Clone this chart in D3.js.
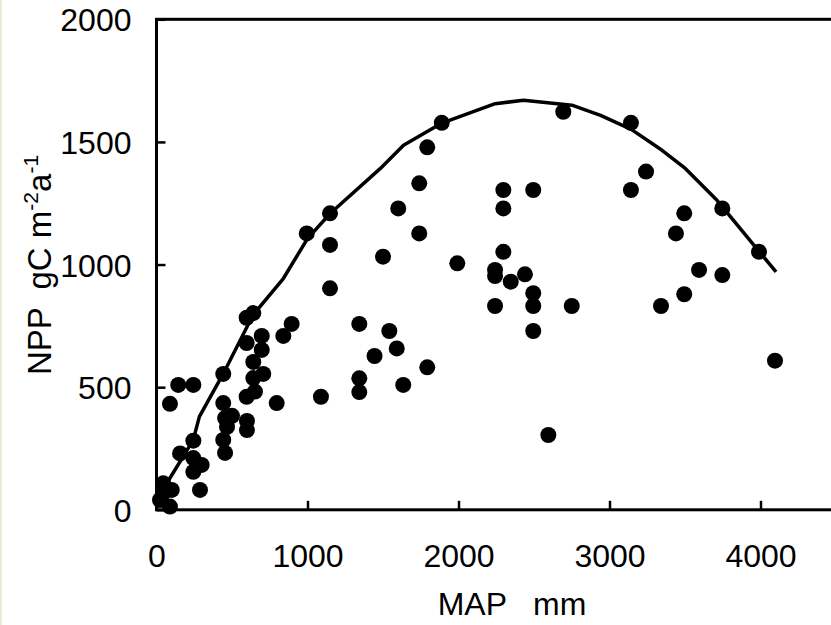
<!DOCTYPE html>
<html>
<head>
<meta charset="utf-8">
<script src="https://cdn.jsdelivr.net/npm/d3@7"></script>
<style>
  html, body { margin: 0; padding: 0; background: #fff; }
  svg { display: block; font-family: "Liberation Sans", Arial, sans-serif; }
</style>
</head>
<body>
<div id="chart"></div>
<script>
// MAP (mm) and NPP (gC m-2 a-1) of each site
const mapValues = [
  89, 144, 244, 442, 597, 641, 697, 597, 697, 641, 707, 641, 652, 597, 840, 895, 796,
  442, 454, 500, 599, 467, 599, 442, 454, 244, 156, 244, 299, 244, 288, 45, 101, 45, 89, 23,
  1089, 995, 1149, 1149, 1149, 1343, 1542, 1591, 1444, 1343, 1343, 1500, 1601,
  1889, 1793, 1740, 1740, 1992, 2297, 2297, 2495, 2694, 2297, 2242, 2242, 2346, 2440,
  2495, 2495, 2242, 2750, 2495, 2595, 1793, 1634,
  3142, 3242, 3142, 3495, 3440, 3747, 3990, 3593, 3747, 3495, 3341, 4096
];
const nppValues = [
  432, 509, 509, 554, 783, 802, 709, 680, 652, 603, 554, 537, 482, 461, 709, 758, 435,
  435, 374, 383, 362, 338, 325, 285, 232, 282, 230, 211, 183, 155, 81, 108, 81, 69, 13, 40,
  461, 1127, 1209, 1080, 903, 758, 729, 658, 627, 536, 480, 1032, 1229,
  1578, 1478, 1331, 1127, 1005, 1304, 1229, 1304, 1623, 1052, 978, 953, 930, 960,
  883, 831, 831, 831, 729, 305, 581, 509,
  1578, 1379, 1304, 1209, 1127, 1229, 1052, 978, 957, 879, 831, 608
];

// trend line
const trendMap = [50, 243, 284, 443, 640, 840, 1000, 1150, 1481, 1636, 1890, 2243, 2431, 2751, 2941, 3144, 3348, 3502, 3712, 3993, 4103];
const trendNpp = [90, 284, 380, 556, 795, 943, 1106, 1208, 1391, 1486, 1577, 1656, 1670, 1650, 1608, 1551, 1466, 1392, 1262, 1052, 970];

const xTicks = [0, 1000, 2000, 3000, 4000];
const yTicks = [0, 500, 1000, 1500, 2000];

const width = 831, height = 625;

const svg = d3.select('#chart').append('svg')
  .attr('width', width)
  .attr('height', height);

// thin tinted strip on the left edge
svg.append('rect')
  .attr('x', 0).attr('y', 0)
  .attr('width', 2).attr('height', height)
  .attr('fill', '#ecebdc');

const x = d3.scaleLinear().domain([0, 4500]).range([156.5, 836]);
const y = d3.scaleLinear().domain([0, 2000]).range([509.8, 19.3]);

const points = mapValues.map((m, i) => ({ map: m, npp: nppValues[i] }));
const trend = trendMap.map((m, i) => ({ map: m, npp: trendNpp[i] }));

// axes, ticks pointing inward
const xAxis = svg.append('g')
  .attr('transform', `translate(0,${y(0)})`)
  .call(d3.axisBottom(x).tickValues(xTicks).tickSize(-9).tickPadding(35).tickFormat(d3.format('d')));

const yAxis = svg.append('g')
  .attr('transform', `translate(${x(0)},0)`)
  .call(d3.axisLeft(y).tickValues(yTicks).tickSize(-9).tickPadding(25).tickFormat(d3.format('d')));

[xAxis, yAxis].forEach(g => {
  g.select('.domain').remove();
  g.selectAll('.tick line').attr('stroke', '#000').attr('stroke-width', 2.5);
  g.selectAll('.tick text')
    .attr('fill', '#000')
    .style('font-size', '32px')
    .style('font-family', '"Liberation Sans", Arial, sans-serif');
});
yAxis.selectAll('.tick text').attr('dy', '0.36em');
xAxis.selectAll('.tick text').attr('dy', '0.68em');

// plot frame
svg.append('rect')
  .attr('x', x(0)).attr('y', y(2000))
  .attr('width', x(4500) - x(0)).attr('height', y(0) - y(2000))
  .attr('fill', 'none')
  .attr('stroke', '#000')
  .attr('stroke-width', 3);

// points
svg.append('g')
  .selectAll('circle')
  .data(points)
  .enter().append('circle')
  .attr('cx', d => x(d.map))
  .attr('cy', d => y(d.npp))
  .attr('r', 8)
  .attr('fill', '#000');

// trend line
const line = d3.line()
  .x(d => x(d.map))
  .y(d => y(d.npp));

svg.append('path')
  .datum(trend)
  .attr('d', line)
  .attr('fill', 'none')
  .attr('stroke', '#000')
  .attr('stroke-width', 3.5)
  .attr('stroke-linejoin', 'round');

// axis titles
svg.append('text')
  .attr('x', 512)
  .attr('y', 615)
  .attr('text-anchor', 'middle')
  .style('font-size', '32px')
  .style('white-space', 'pre')
  .text('MAP   mm');

const yTitle = svg.append('text')
  .attr('transform', 'translate(51,265) rotate(-90)')
  .attr('text-anchor', 'middle')
  .style('font-size', '33px')
  .style('white-space', 'pre');
yTitle.append('tspan').text('NPP  gC m');
yTitle.append('tspan').attr('dy', -13).style('font-size', '21px').text('-2');
yTitle.append('tspan').attr('dy', 13).text('a');
yTitle.append('tspan').attr('dy', -13).style('font-size', '21px').text('-1');
</script>
</body>
</html>
